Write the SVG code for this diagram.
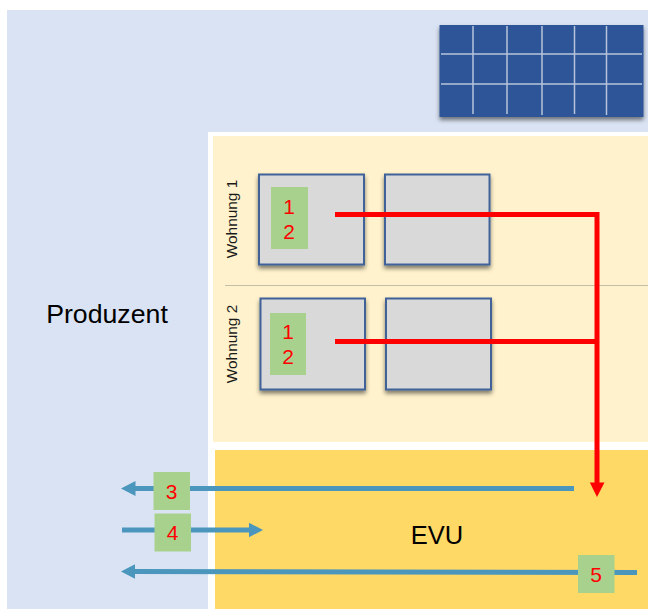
<svg xmlns="http://www.w3.org/2000/svg" width="648" height="609" viewBox="0 0 648 609">
<defs>
<filter id="sh" x="-10%" y="-10%" width="120%" height="125%"><feDropShadow dx="0" dy="3" stdDeviation="2" flood-color="#000" flood-opacity="0.5"/></filter>
<marker id="bh" markerUnits="userSpaceOnUse" markerWidth="15" markerHeight="15" refX="4" refY="7.500" orient="auto"><path d="M0 0L14.500 7.500L0 15Z" fill="#4a96bc"/></marker>
</defs>
<style>
text{font-family:"Liberation Sans",Arial,sans-serif}
.box{fill:#d9d9d9;stroke:#3f6299;stroke-width:2;filter:url(#sh)}
.g{fill:#a9d18e}
.n{fill:#ff0000;font-size:21px;text-anchor:middle}
.w{fill:#1a1a1a;font-size:15.400px;text-anchor:middle}
.pl{stroke:#fff;stroke-opacity:.65;stroke-width:1.500}
.bl{fill:none;stroke:#4a96bc;stroke-width:5;marker-end:url(#bh)}
.rd{fill:none;stroke:#ff0000;stroke-width:5}
</style>
<rect width="648" height="609" fill="#fff"/>
<rect id="bg" x="7" y="10" width="641" height="599" fill="#dae3f3"/>
<rect x="208" y="132" width="440" height="477" fill="#fff"/>
<rect id="haus" x="213" y="136" width="435" height="306" fill="#fff2cc"/>
<rect id="evu-bg" x="215" y="450" width="433" height="159" fill="#ffd966"/>
<g id="solar">
<rect x="439.500" y="25" width="204" height="92" fill="#2f5597" filter="url(#sh)"/>
<path class="pl" d="M473 26V114M507 26V114M542 26V115M574.500 26V114M606.500 26V115M441 54H642M441 84H642"/>
</g>
<line id="divider" x1="225" y1="285.500" x2="648" y2="285.500" stroke="#c3bda8" stroke-width="1"/>
<text id="produzent" x="107" y="323" font-size="26.700" text-anchor="middle" fill="#000">Produzent</text>
<text id="evu" x="437" y="544" font-size="25.500" text-anchor="middle" fill="#000">EVU</text>
<g id="wohnung1">
<text class="w" transform="translate(237 219) rotate(-90)">Wohnung 1</text>
<rect class="box" x="259" y="174.500" width="105" height="90"/>
<rect class="box" x="385" y="174.500" width="104.500" height="90"/>
<rect class="g" x="271" y="187" width="37" height="62"/>
<text class="n" x="289" y="213.500">1</text><text class="n" x="289" y="238.500">2</text>
</g>
<g id="wohnung2">
<text class="w" transform="translate(237 344) rotate(-90)">Wohnung 2</text>
<rect class="box" x="260.500" y="298.500" width="104.500" height="91"/>
<rect class="box" x="386" y="298.500" width="105" height="91"/>
<rect class="g" x="270" y="313" width="36" height="62"/>
<text class="n" x="288" y="338.500">1</text><text class="n" x="288" y="363.500">2</text>
</g>
<g id="connectors">
<path class="rd" d="M335 214.500H597V483"/>
<path class="rd" d="M335 341.500H597"/>
<path d="M589.800 482.500H604.500L597 497Z" fill="#ff0000"/>
<line class="bl" x1="574" y1="488.500" x2="131.500" y2="488.500"/>
<line class="bl" x1="122" y1="530" x2="252.500" y2="530"/>
<line class="bl" x1="637" y1="572.500" x2="131.500" y2="571.500"/>
</g>
<g id="n3"><rect class="g" x="153.500" y="472" width="36.500" height="38"/><text class="n" x="171.500" y="498.500">3</text></g>
<g id="n4"><rect class="g" x="154.500" y="513.500" width="36.500" height="38"/><text class="n" x="172.500" y="540">4</text></g>
<g id="n5"><rect class="g" x="578" y="555" width="36.500" height="38"/><text class="n" x="596" y="581.500">5</text></g>
</svg>
